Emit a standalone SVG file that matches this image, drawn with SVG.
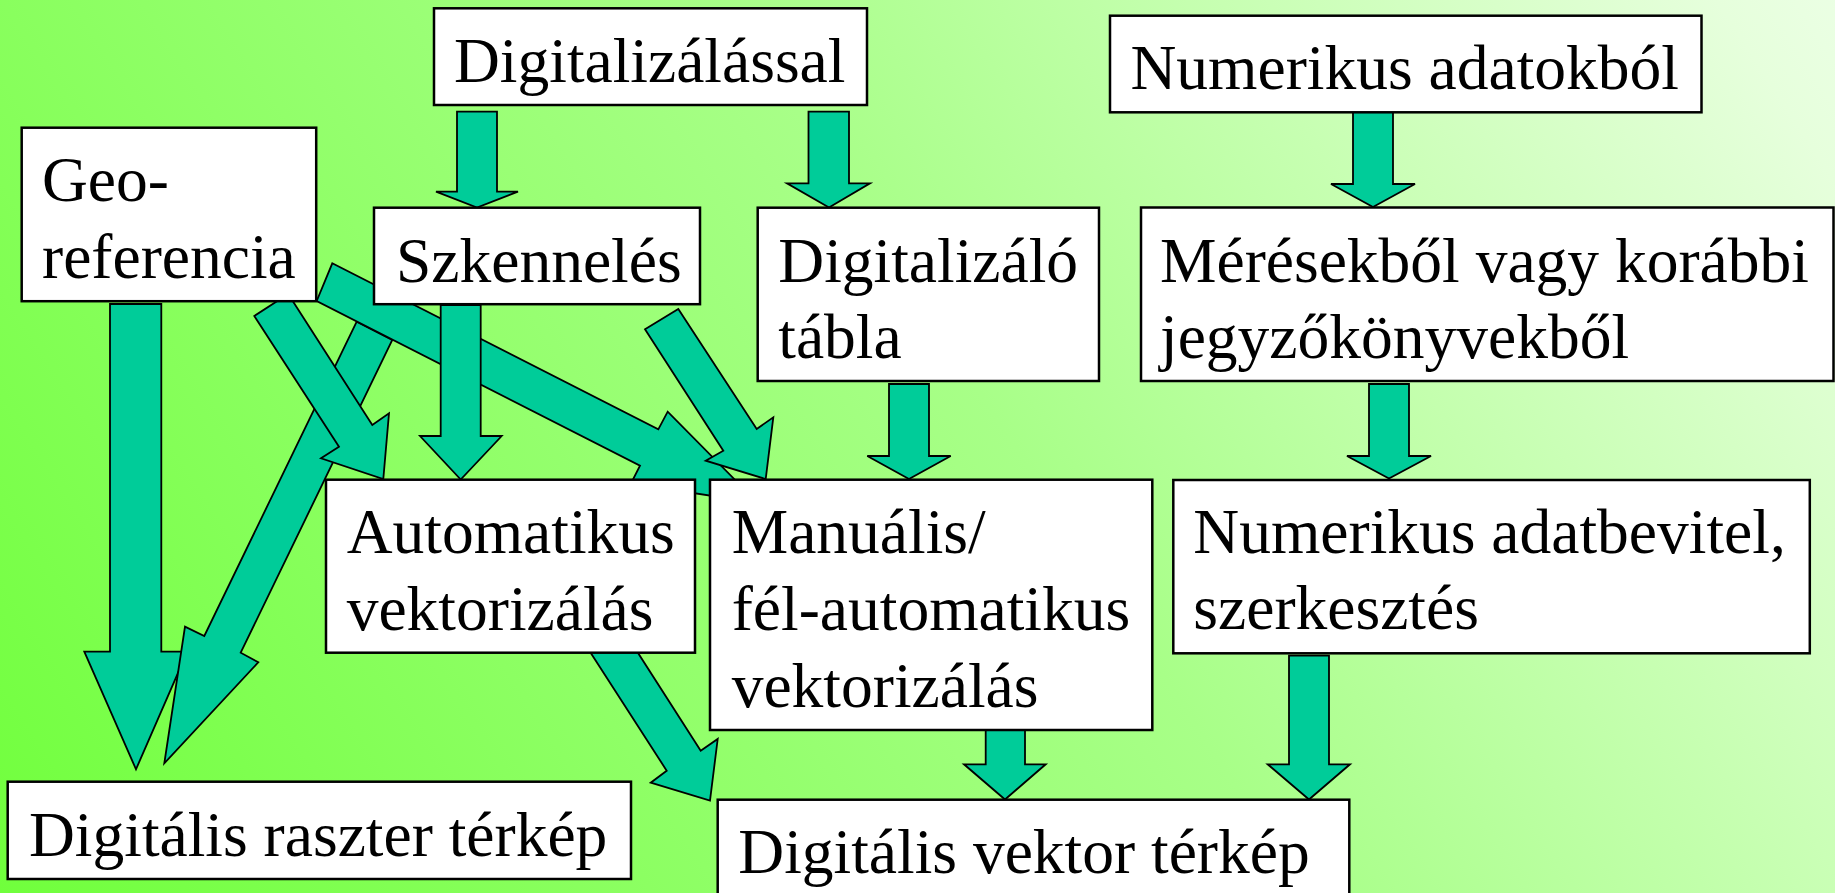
<svg xmlns="http://www.w3.org/2000/svg" width="1835" height="893" viewBox="0 0 1835 893">
<defs>
<linearGradient id="bg" gradientUnits="userSpaceOnUse" x1="0" y1="893" x2="1835" y2="-300">
<stop offset="0" stop-color="#70ff3c"/>
<stop offset="0.5" stop-color="#a8ff88"/>
<stop offset="0.88" stop-color="#e6ffdc"/>
<stop offset="1" stop-color="#f2fff0"/>
</linearGradient>
<style>
.box{fill:#fff;stroke:#000;stroke-width:2.5}
.arr{fill:#00cc99;stroke:#000;stroke-width:1.8;stroke-linejoin:miter}
text{font-family:"Liberation Serif","Times New Roman",serif;font-size:63.5px;fill:#000}
</style>
</defs>
<rect x="0" y="0" width="1835" height="893" fill="url(#bg)"/>
<g id="connectors">
<polygon class="arr" points="457,111.7 497,111.7 497,191.7 518,191.7 477,207.5 436,191.7 457,191.7"/>
<polygon class="arr" points="808.5,111.7 849,111.7 849,183.3 870,183.3 829,207.5 787,183.3 808.5,183.3"/>
<polygon class="arr" points="1353,111.7 1393,111.7 1393,184 1415,184 1373,207 1331,184 1353,184"/>
<polygon class="arr" points="1369,384 1409,384 1409,456 1431,456 1389,478.5 1347,456 1369,456"/>
<polygon class="arr" points="889,384 929,384 929,456 950.7,456 909,479 867.3,456 889,456"/>
<polygon class="arr" points="985.7,730 1025,730 1025,764.3 1045.7,764.3 1005,799.5 964,764.3 985.7,764.3"/>
<polygon class="arr" points="1289,655.7 1329,655.7 1329,764.3 1350,764.3 1309,799.5 1267.7,764.3 1289,764.3"/>
<polygon class="arr" points="110,304 161.3,304 161.3,651.7 187.3,651.7 136,769.3 84.3,651.7 110,651.7"/>
<polygon class="arr" points="356.7,321.7 204.3,636 185,626.7 164.3,763.3 258.3,662.3 240.7,652.7 392.3,340"/>
<polygon class="arr" points="332.3,263.3 658.3,429.3 667.7,411.7 757.8,502.9 630.9,483.5 640,465.7 316.7,301"/>
<polygon class="arr" points="288.2,294 254.3,316 339,446.7 321,458.3 383.3,479 389,413.3 372.3,425"/>
<polygon class="arr" points="440.7,305 480.7,305 480.7,436 501.7,436 460.7,479.5 420,436 440.7,436"/>
<polygon class="arr" points="645,329.3 723.3,450.7 705.7,460.7 765.7,479 773.3,417.3 756.7,429 678.3,309"/>
<polygon class="arr" points="582.4,640 666.7,770.7 650.7,782.7 710,800.7 717.7,739 700.7,750.7 629.7,640"/>
</g>
<g id="n-digitalizalassal">
<rect class="box" x="434" y="8.3" width="433" height="96.7"/>
<text x="454" y="81.5">Digitalizálással</text>
</g>
<g id="n-numerikus-adatokbol">
<rect class="box" x="1110" y="15.7" width="591.5" height="96.6"/>
<text x="1130.5" y="89.3">Numerikus adatokból</text>
</g>
<g id="n-georeferencia">
<rect class="box" x="21.7" y="127.7" width="294.5" height="173.5"/>
<text x="42" y="201">Geo-</text>
<text x="42" y="277.5">referencia</text>
</g>
<g id="n-szkenneles">
<rect class="box" x="374" y="207.7" width="326" height="96.5"/>
<text x="396" y="281.5">Szkennelés</text>
</g>
<g id="n-digitalizalo-tabla">
<rect class="box" x="757.7" y="207.7" width="341.3" height="173.3"/>
<text x="778.3" y="281.7">Digitalizáló</text>
<text x="778.3" y="358.3">tábla</text>
</g>
<g id="n-meresekbol">
<rect class="box" x="1141" y="207.5" width="692.5" height="173.5"/>
<text x="1160" y="281.7">Mérésekből vagy korábbi</text>
<text x="1160" y="357.7">jegyzőkönyvekből</text>
</g>
<g id="n-automatikus">
<rect class="box" x="326" y="479.7" width="369" height="173"/>
<text x="346.7" y="553.3">Automatikus</text>
<text x="346.7" y="630">vektorizálás</text>
</g>
<g id="n-manualis">
<rect class="box" x="710" y="479.7" width="442.3" height="250.3"/>
<text x="731.7" y="553.3">Manuális/</text>
<text x="731.7" y="630">fél-automatikus</text>
<text x="731.7" y="706.7">vektorizálás</text>
</g>
<g id="n-numerikus-adatbevitel">
<rect class="box" x="1173.3" y="480" width="636.5" height="173.3"/>
<text x="1193.3" y="553.3">Numerikus adatbevitel,</text>
<text x="1193.3" y="629.3">szerkesztés</text>
</g>
<g id="n-raszter">
<rect class="box" x="7.7" y="781.7" width="623.3" height="97.3"/>
<text x="29" y="855.7">Digitális raszter térkép</text>
</g>
<g id="n-vektor">
<rect class="box" x="717.7" y="799.7" width="631.6" height="110"/>
<text x="738.3" y="873.3">Digitális vektor térkép</text>
</g>
</svg>
